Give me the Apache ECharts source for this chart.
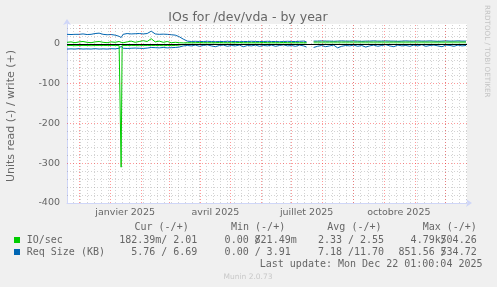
<!DOCTYPE html>
<html><head><meta charset="utf-8">
<script src="https://cdn.jsdelivr.net/npm/echarts@6/dist/echarts.min.js"></script>
<style>html,body{margin:0;padding:0;background:#f0f0f0}#c{width:497px;height:287px}</style>
</head><body><div id="c"></div>
<script>
// ---- data ----
const dates = [
'2024-11-19','2024-11-23','2024-11-27','2024-12-01','2024-12-05','2024-12-09','2024-12-13','2024-12-17','2024-12-21','2024-12-25',
'2024-12-29','2025-01-02','2025-01-06','2025-01-10','2025-01-11','2025-01-12','2025-01-13','2025-01-14','2025-01-18','2025-01-22',
'2025-01-26','2025-01-30','2025-02-03','2025-02-07','2025-02-11','2025-02-15','2025-02-19','2025-02-23','2025-02-27','2025-03-03',
'2025-03-07','2025-03-11','2025-03-15','2025-03-19','2025-03-23','2025-03-27','2025-03-31','2025-04-04','2025-04-08','2025-04-12',
'2025-04-16','2025-04-20','2025-04-24','2025-04-28','2025-05-02','2025-05-06','2025-05-10','2025-05-14','2025-05-18','2025-05-22',
'2025-05-26','2025-05-30','2025-06-03','2025-06-07','2025-06-11','2025-06-15','2025-06-19','2025-06-23','2025-06-27','2025-07-01',
'2025-07-05','2025-07-09','2025-07-13','2025-07-16','2025-07-19','2025-07-23','2025-07-27','2025-07-31','2025-08-04','2025-08-08',
'2025-08-12','2025-08-16','2025-08-20','2025-08-24','2025-08-28','2025-09-01','2025-09-05','2025-09-09','2025-09-13','2025-09-17',
'2025-09-21','2025-09-25','2025-09-29','2025-10-03','2025-10-07','2025-10-11','2025-10-15','2025-10-19','2025-10-23','2025-10-27',
'2025-10-31','2025-11-04','2025-11-08','2025-11-12','2025-11-16','2025-11-20','2025-11-24','2025-11-28','2025-12-02','2025-12-06',
'2025-12-10','2025-12-14','2025-12-18','2025-12-22'
];
const ioWrite = [
4,5,3,5,6,4,3,5,6,4,
3,5,4,6,5,4,5,3,5,7,
4,6,8,6,13,5,7,4,6,3,
4,3,2.5,3,3,3,3.5,3,3,3,
3,3.5,3,3,3,3,3.5,3,3,3,
3,3,3.5,3,3,3,3,3.5,3,3,
3,3,3,3,null,4.5,4.5,4.5,4.5,4.5,
4.5,4.5,4.5,4.5,4.5,4.5,4.5,4.5,4.5,4.5,
4.5,4.5,4.5,4.5,4.5,4.5,4.5,4.5,4.5,4.5,
4.5,4.5,4.5,4.5,4.5,4.5,4.5,4.5,4.5,4.5,
4.5,4.5,4.5,4.5
];
const ioRead = [
-4,-4,-4.5,-4,-4,-4,-4.5,-4,-4,-4,
-4,-4,-4,-4,-4,-310,-4,-4,-4,-4,
-4,-4.5,-4,-4,-4,-4,-4,-4.5,-4,-4,
-4,-3,-1.5,-1,-1,-1,-1,-1,-1,-1,
-1,-1,-1,-1,-1,-1,-1,-1,-1,-1,
-1,-1,-1,-1,-1,-1,-1,-1,-1,-1,
-1,-1,-1,-1,null,-1,-1,-1,-1,-1,
-1,-1,-1,-1,-1,-1,-1,-1,-1,-1,
-1,-1,-1,-1,-1,-1,-1,-1,-1,-1,
-1,-1,-1,-1,-1,-1,-1,-1,-1,-1,
-1,-1,-1,-1
];
const reqWrite = [
24,23.5,24,24,25,23.5,24,26,27,24,
23,23.5,22,19,17,16,19,24,26,25,
25.5,26,25,26,32,25,24,24.5,24,23,
22,18,12,7,6,6.5,6,6,6.5,6,
5.5,6,6,6.5,6,6,5.5,6,6,6.5,
6,6,6,6.5,6,6,5.5,6,6.5,6,
6,6.5,7,5,null,7,7,7.5,7,7,
6.5,7,7.5,7,7,7.5,7,6.5,7,7,
7.5,7,7,7.5,7,7,6.5,7,7.5,7,
7,7.5,7,7,7.5,7,6.5,7,7.5,7,
7,7.5,7,7
];
const reqRead = [
-13,-12.5,-13,-12,-13,-12.5,-13,-12,-13,-12.5,
-13,-12,-12.5,-11,-7,-6,-9,-11,-11.5,-11,
-10.5,-11,-11.5,-10.5,-9,-9.5,-10,-9,-10,-9.5,
-9,-8,-5,-4,-5,-3,-6,-4,-2.5,-5,
-7,-4,-3,-6,-4,-5,-3,-7,-4,-5,
-3,-6,-4,-5,-3,-6,-4,-2.5,-5,-4,
-6,-3,-5,-8,null,-9,-6,-4,-7,-5,
-3,-10,-6,-4,-5,-3,-6,-4,-8,-5,
-3,-6,-4,-2,-5,-7,-3,-5,-4,-6,
-3,-5,-2,-6,-4,-3,-5,-7,-3,-4,
-6,-3,-5,-4
];
const monthStarts = ['2024-12-01','2025-01-01','2025-02-01','2025-03-01','2025-04-01','2025-05-01','2025-06-01',
  '2025-07-01','2025-08-01','2025-09-01','2025-10-01','2025-11-01','2025-12-01'];
const xLabelDates = ['2025-01-16','2025-04-16','2025-07-16','2025-10-16'];
const xLabelNames = ['janvier 2025','avril 2025','juillet 2025','octobre 2025'];
const yTickValues = [0,-100,-200,-300,-400];

const legendHeads = ['Cur (-/+)','Min (-/+)','Avg (-/+)','Max (-/+)'];
const ioReadStats = [['182.39','m'],['0.00',''],['2.33',''],['4.79','k']];
const ioWriteStats = [['2.01',''],['821.49','m'],['2.55',''],['504.26','']];
const reqReadStats = [['5.76',''],['0.00',''],['7.18',''],['851.56','']];
const reqWriteStats = [['6.69',''],['3.91',''],['11.70',''],['534.72','']];

// ---- build ----
function ts(s){const p=s.split('-').map(Number);return Date.UTC(p[0],p[1]-1,p[2]);}
const xMin = ts('2024-11-19'), xMax = ts('2025-12-23');
const DAY = 86400000;
const toPairs = v => dates.map((d,i)=>[ts(d), v[i]]);

const GREEN='#00cc00', BLUE='#0066b3';
const minorCol='rgba(128,128,128,0.35)', majorCol='rgba(255,0,0,0.4)';
const DASH=[1,2];

const gridLines = [];
for (let t = ts('2024-11-25'); t <= xMax; t += 7*DAY) {
  gridLines.push({xAxis: t, lineStyle:{color:minorCol, type:DASH, width:1}});
}
monthStarts.forEach(m => gridLines.push({xAxis: ts(m), lineStyle:{color:majorCol, type:DASH, width:1}}));
for (let v = -380; v <= 40; v += 20) {
  if (v % 100 === 0) continue;
  gridLines.push({yAxis: v, lineStyle:{color:minorCol, type:DASH, width:1}});
}
yTickValues.forEach(v => { if (v !== 0 && v !== -400) gridLines.push({yAxis: v, lineStyle:{color:majorCol, type:DASH, width:1}}); });

const lineSeries = (name, data, color) => ({
  type:'line', name, data, showSymbol:false, symbol:'none', connectNulls:false,
  lineStyle:{color, width:1}, itemStyle:{color}, z:3, animation:false, silent:true
});

const FONT_COL = '#666';
const MONO = "10px 'DejaVu Sans Mono'";
const graphics = [];
const txt = (x,y,text,opt={}) => graphics.push({type:'text', x, y, rotation: opt.rot||0, silent:true,
  style:{text, font: opt.font||MONO, fill: opt.fill||FONT_COL, align: opt.align||'left', verticalAlign:'middle'}});

txt(248, 18, 'IOs for /dev/vda - by year', {font:"12.5px 'DejaVu Sans'", align:'center'});
txt(11, 116, 'Units read (-) / write (+)', {font:"11px 'DejaVu Sans'", align:'center', rot:Math.PI/2});
txt(487, 5, 'RRDTOOL / TOBI OETIKER', {font:"7.2px 'DejaVu Sans'", fill:'#c4c4c4', rot:-Math.PI/2});

const headX = [134.5, 231, 327.3, 422.7];
legendHeads.forEach((h,i)=>txt(headX[i], 227.5, h));
const S = [161.3, 254.7, 348, 440.7];
function statRow(y, reads, writes){
  S.forEach((s,i)=>{
    txt(s-6, y, reads[i][0], {align:'right'});
    if (reads[i][1]) txt(s-6, y, reads[i][1]);
    txt(s, y, '/');
    txt(s+36, y, writes[i][0], {align:'right'});
    if (writes[i][1]) txt(s+36, y, writes[i][1]);
  });
}
graphics.push({type:'rect', shape:{x:14, y:237, width:6, height:6}, style:{fill:GREEN}, silent:true});
graphics.push({type:'rect', shape:{x:14, y:249, width:6, height:6}, style:{fill:BLUE}, silent:true});
txt(26.7, 240, 'IO/sec');
txt(26.7, 252, 'Req Size (KB)');
statRow(240, ioReadStats, ioWriteStats);
statRow(252, reqReadStats, reqWriteStats);
txt(482.5, 264, 'Last update: Mon Dec 22 01:00:04 2025', {align:'right'});
txt(248, 277, 'Munin 2.0.73', {font:"7.5px 'DejaVu Sans'", fill:'#c8c8c8', align:'center'});

const labelMap = {};
xLabelDates.forEach((d,i)=>{ labelMap[ts(d)] = xLabelNames[i]; });

const option = {
  backgroundColor:'#f0f0f0',
  animation:false,
  grid:{left:67, right:30, top:24, bottom:84, show:true, backgroundColor:'#ffffff', borderWidth:0},
  xAxis:{
    type:'value', min:xMin, max:xMax, scale:true,
    axisLine:{show:true, onZero:false, lineStyle:{color:'#cfd6f8', width:1}, symbol:['none','arrow'], symbolSize:[6,6], symbolOffset:[0,5]},
    axisTick:{show:false},
    splitLine:{show:false},
    axisLabel:{show:true, customValues: xLabelDates.map(ts), formatter: v => labelMap[v] || '',
      color:FONT_COL, fontFamily:'DejaVu Sans', fontSize:9.5, margin:5, hideOverlap:false}
  },
  yAxis:{
    type:'value', min:-400, max:50, interval:100,
    axisLine:{show:true, onZero:false, lineStyle:{color:'#cfd6f8', width:1}, symbol:['none','arrow'], symbolSize:[6,6], symbolOffset:[0,5]},
    axisTick:{show:false},
    splitLine:{show:false},
    axisLabel:{showMaxLabel:false, color:FONT_COL, fontFamily:'DejaVu Sans', fontSize:9.5, margin:7}
  },
  graphic: graphics,
  series:[
    {type:'line', name:'grid', data:[], z:1, silent:true, animation:false,
      markLine:{silent:true, symbol:['none','none'], label:{show:false}, animation:false, data: gridLines}},
    lineSeries('reqWrite', toPairs(reqWrite), BLUE),
    lineSeries('reqRead', toPairs(reqRead), BLUE),
    lineSeries('ioWrite', toPairs(ioWrite), GREEN),
    lineSeries('ioRead', toPairs(ioRead), GREEN),
    {type:'line', name:'zero', data:[], z:4, silent:true, animation:false,
      markLine:{silent:true, symbol:['none','none'], label:{show:false}, animation:false,
        data:[{yAxis:0, lineStyle:{color:'#000', type:'solid', width:1}}]}}
  ]
};
const chart = echarts.init(document.getElementById('c'), null, {renderer:'canvas'});
chart.setOption(option);
</script></body></html>
